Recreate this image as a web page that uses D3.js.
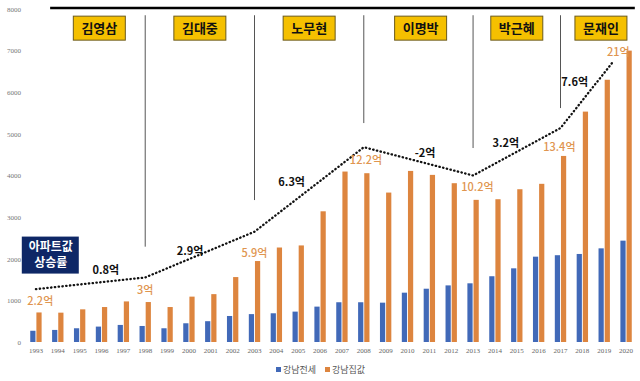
<!DOCTYPE html>
<html>
<head>
<meta charset="utf-8">
<script src="https://cdn.jsdelivr.net/npm/d3@7"></script>
<style>
	body { margin: 0; background: #fff; }
	text { font-family: "Noto Sans CJK KR", "Noto Sans", sans-serif; }
</style>
</head>
<body onload="body_ready()">
<div id="container"></div>
<script>

// years on the x axis
var years = [1993, 1994, 1995, 1996, 1997, 1998, 1999, 2000, 2001, 2002, 2003, 2004, 2005, 2006,
	2007, 2008, 2009, 2010, 2011, 2012, 2013, 2014, 2015, 2016, 2017, 2018, 2019, 2020];

// 강남전세 (blue)
var jeonse = [270, 290, 330, 370, 410, 385, 330, 450, 500, 625, 670, 690, 730, 850,
	955, 955, 945, 1185, 1280, 1360, 1410, 1580, 1770, 2050, 2085, 2115, 2250, 2435];

// 강남집값 (orange)
var prices = [710, 705, 785, 840, 975, 960, 840, 1090, 1150, 1560, 1945, 2270, 2320, 3140,
	4095, 4055, 3590, 4110, 4015, 3815, 3415, 3430, 3670, 3800, 4470, 5535, 6300, 7000];

var yTicks = [0, 1000, 2000, 3000, 4000, 5000, 6000, 7000, 8000];

var seriesNames = ["강남전세", "강남집값"];

// dotted trend line (year, value)
var trendYears = [1993, 1998, 2003, 2008, 2013, 2017, 2019.4];
var trendValues = [1270, 1550, 2650, 4680, 4000, 5140, 6730];

// presidents and the year their tag is centred on
var presidents = ["김영삼", "김대중", "노무현", "이명박", "박근혜", "문재인"];
var presidentYears = [1995.9, 2000.5, 2005.5, 2010.6, 2015.0, 2018.85];

// term dividers: year and lower end value
var dividerYears = [1998, 2003, 2008, 2013, 2017];
var dividerEnds = [2290, 3410, 5260, 4660, 5620];

// increase labels (black)
var riseLabels = ["0.8억", "2.9억", "6.3억", "-2억", "3.2억", "7.6억"];
var riseYears = [1996.2, 2000.05, 2004.7, 2010.8, 2014.5, 2017.65];
var riseValues = [1730, 2190, 3850, 4530, 4770, 6250];

// price labels (orange)
var priceLabels = ["2.2억", "3억", "5.9억", "12.2억", "10.2억", "13.4억", "21억"];
var priceYears = [1993.2, 1998.0, 2003.0, 2008.1, 2013.2, 2016.95, 2019.65];
var priceValues = [985, 1250, 2140, 4370, 3730, 4690, 6970];

var blue = "#4169b8";
var orange = "#dd853f";

function body_ready()
{// called when the body is ready

	var svg = d3.select("#container")
		.append("svg")
			.attr("width", 640)
			.attr("height", 381);

	var x = d3.scaleBand() // one band per year
		.domain(years)
		.range([25, 637])
		.paddingInner(0.48)
		.paddingOuter(0.24);

	var sub = d3.scaleBand() // two bars inside a band
		.domain(seriesNames)
		.range([0, x.bandwidth()])
		.paddingInner(0.15);

	var xl = d3.scaleLinear() // continuous year -> band centre
		.domain([1993, 2020])
		.range([x(1993) + x.bandwidth() / 2, x(2020) + x.bandwidth() / 2]);

	var y = d3.scaleLinear()
		.domain([0, 8000])
		.range([342, 9]);

	// y axis labels, no line
	var yAxis = svg.append("g")
		.attr("transform", "translate(21,0)")
		.call(d3.axisLeft(y).tickValues(yTicks).tickFormat(d3.format("d")).tickSize(0).tickPadding(0));
	yAxis.select(".domain").remove();
	yAxis.selectAll("text")
		.style("font-family", "'Liberation Serif', serif")
		.style("font-size", "7px")
		.attr("fill", "#777");

	// x axis labels
	var xAxis = svg.append("g")
		.attr("transform", "translate(0,348)")
		.call(d3.axisBottom(x).tickSize(0).tickPadding(0));
	xAxis.select(".domain").remove();
	xAxis.selectAll("text")
		.style("font-family", "'Liberation Serif', serif")
		.style("font-size", "7px")
		.attr("fill", "#666");

	// top rule
	svg.append("line")
		.attr("x1", xl(1993.65))
		.attr("x2", xl(2020.4))
		.attr("y1", y(8000) - 1)
		.attr("y2", y(8000) - 1)
		.attr("stroke", "#000")
		.attr("stroke-width", 2.5);

	// term dividers
	svg.selectAll("line.divider")
		.data(dividerYears)
		.enter()
		.append("line")
			.attr("class", "divider")
			.attr("x1", (d) => xl(d))
			.attr("x2", (d) => xl(d))
			.attr("y1", y(7850))
			.attr("y2", (d, i) => y(dividerEnds[i]))
			.attr("stroke", "#555")
			.attr("stroke-width", 1);

	// bars
	var groups = svg.selectAll("g.year")
		.data(years)
		.enter()
		.append("g")
			.attr("class", "year")
			.attr("transform", (d) => "translate(" + x(d) + ",0)");

	groups.append("rect") // 강남전세
		.attr("x", sub(seriesNames[0]))
		.attr("width", sub.bandwidth())
		.attr("y", (d, i) => y(jeonse[i]))
		.attr("height", (d, i) => y(0) - y(jeonse[i]))
		.attr("fill", blue);

	groups.append("rect") // 강남집값
		.attr("x", sub(seriesNames[1]))
		.attr("width", sub.bandwidth())
		.attr("y", (d, i) => y(prices[i]))
		.attr("height", (d, i) => y(0) - y(prices[i]))
		.attr("fill", orange);

	// dotted trend
	var line = d3.line()
		.x((d) => xl(d))
		.y((d, i) => y(trendValues[i]));

	svg.append("path")
		.attr("d", line(trendYears))
		.attr("fill", "none")
		.attr("stroke", "#111")
		.attr("stroke-width", 2.3)
		.attr("stroke-linecap", "round")
		.attr("stroke-dasharray", "0.4,3.4");

	// president tags
	var tags = svg.selectAll("g.president")
		.data(presidents)
		.enter()
		.append("g")
			.attr("class", "president")
			.attr("transform", (d, i) => "translate(" + xl(presidentYears[i]) + "," + y(7540) + ")");

	tags.append("rect")
		.attr("x", -26)
		.attr("y", -12)
		.attr("width", 52)
		.attr("height", 24)
		.attr("fill", "#f5c000")
		.attr("stroke", "#6b5a1c")
		.attr("stroke-width", 1);

	tags.append("text")
		.attr("text-anchor", "middle")
		.attr("dy", "0.36em")
		.style("font-size", "13px")
		.style("font-weight", "bold")
		.attr("fill", "#111")
		.text((d) => d);

	// 아파트값 상승률 box
	var box = svg.append("g")
		.attr("transform", "translate(" + xl(1993.68) + "," + y(2100) + ")");
	box.append("rect")
		.attr("x", -29)
		.attr("y", -18)
		.attr("width", 57)
		.attr("height", 37)
		.attr("fill", "#0e2766");
	box.append("text")
		.attr("text-anchor", "middle")
		.attr("y", -4)
		.style("font-size", "12px")
		.style("font-weight", "bold")
		.attr("fill", "#fff")
		.text("아파트값");
	box.append("text")
		.attr("text-anchor", "middle")
		.attr("y", 12)
		.style("font-size", "12px")
		.style("font-weight", "bold")
		.attr("fill", "#fff")
		.text("상승률");

	// increase labels
	svg.selectAll("text.rise")
		.data(riseLabels)
		.enter()
		.append("text")
			.attr("class", "rise")
			.attr("x", (d, i) => xl(riseYears[i]))
			.attr("y", (d, i) => y(riseValues[i]))
			.attr("dy", "0.36em")
			.attr("text-anchor", "middle")
			.style("font-size", "11px")
			.style("font-weight", "bold")
			.attr("fill", "#111")
			.text((d) => d);

	// price labels
	svg.selectAll("text.price")
		.data(priceLabels)
		.enter()
		.append("text")
			.attr("class", "price")
			.attr("x", (d, i) => xl(priceYears[i]))
			.attr("y", (d, i) => y(priceValues[i]))
			.attr("dy", "0.36em")
			.attr("text-anchor", "middle")
			.style("font-size", "11px")
			.style("font-weight", "500")
			.attr("fill", "#e0954f")
			.text((d) => d);

	// legend
	var legend = svg.selectAll("g.legend")
		.data(seriesNames)
		.enter()
		.append("g")
			.attr("class", "legend")
			.attr("transform", (d, i) => "translate(" + (276 + i * 49) + ",370)");

	legend.append("rect")
		.attr("x", 0)
		.attr("y", -3)
		.attr("width", 5)
		.attr("height", 5)
		.attr("fill", (d, i) => i == 0 ? blue : orange);

	legend.append("text")
		.attr("x", 7)
		.attr("dy", "0.32em")
		.style("font-size", "9px")
		.attr("fill", "#555")
		.text((d) => d);

}// End body_ready

</script>
</body>
</html>
